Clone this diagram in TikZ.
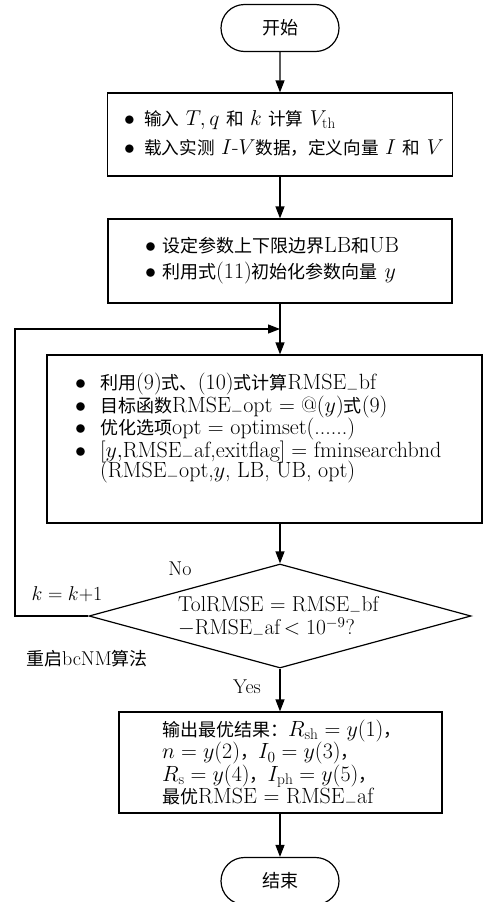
\RequirePackage{fix-cm}
\documentclass[tikz,border=0pt]{standalone}
\usepackage{fontspec}
\newfontfamily\cjk{Noto Sans CJK SC}
\usetikzlibrary{arrows.meta,shapes.geometric,shapes.misc}
\newcommand\zh[1]{{\fontsize{18}{\the\baselineskip}\cjk #1}}
\newcommand\zhs[1]{{\fontsize{17.6}{\the\baselineskip}\cjk #1}}
\newcommand\bul[1]{\makebox[#1][l]{$\bullet$}}
\newcommand\us{$_{-}$}
\begin{document}
\begin{tikzpicture}[x=1pt,y=-1pt,
  every node/.style={font=\fontsize{22}{22}\selectfont},
  box/.style={draw, line width=1.2pt, rectangle, inner sep=0pt},
  term/.style={draw, line width=1.2pt, rounded rectangle, minimum width=118pt, minimum height=47pt, inner sep=0pt},
  dec/.style={draw, line width=1.2pt, diamond, inner sep=0pt, minimum width=382pt, minimum height=104pt},
  arr/.style={-{Triangle[length=12pt,width=9pt]}, line width=1.2pt},
  txt/.style={align=left, inner sep=0pt, anchor=west},
  lab/.style={inner sep=0pt, font=\fontsize{20}{22}\selectfont}]
\useasboundingbox (0,0) rectangle (485,902);

\node[term] (start) at (280,28) {\zh{开始}};
\node[box, minimum width=345pt, minimum height=83pt] (b1) at (280,134.5) {};
\node[box, minimum width=344pt, minimum height=84pt] (b2) at (280,261) {};
\node[box, minimum width=435pt, minimum height=168pt] (b3) at (264.5,439) {};
\node[dec] (dia) at (280,616) {};
\node[box, minimum width=323pt, minimum height=101pt] (b4) at (280.5,762.5) {};
\node[term] (stop) at (280,881) {\zh{结束}};

\node[txt, font=\fontsize{21.5}{29.5}\selectfont] (t1) at (124,133.5)
  {\bul{20pt}\zhs{输入} $T, q$ \zhs{和} $k$ \zhs{计算} $V_{\mathrm{th}}$\\
   \bul{20pt}\zhs{载入实测} $I$-$V$\zhs{数据，定义向量} $I$ \zhs{和} $V$};
\node[txt, font=\fontsize{22}{26}\selectfont] (t2) at (145,261)
  {\bul{17pt}\zh{设定参数上下限边界}LB\zh{和}UB\\
   \bul{17pt}\zh{利用式}(11)\zh{初始化参数向量} $y$};
\node[txt, font=\fontsize{22}{22.5}\selectfont] (t3) at (75,428)
  {\bul{25pt}\zh{利用}(9)\zh{式、}(10)\zh{式计算}RMSE\us bf\\
   \bul{25pt}\zh{目标函数}RMSE\us opt $=@(y)$\zh{式}(9)\\
   \bul{25pt}\zh{优化选项}opt $=$ optimset(......)\\
   \bul{25pt}$[y,$RMSE\us af,exitflag$]=$ fminsearchbnd\\[-2.5pt]
   \hspace*{25pt}(RMSE\us opt,$y$, LB, UB, opt)};
\node[txt, font=\fontsize{21.5}{20.5}\selectfont] (t5) at (178,618)
  {TolRMSE $=$ RMSE\us bf\\$-$RMSE\us af\,$<10^{-9}$?};
\node[txt, font=\fontsize{22}{22.3}\selectfont] (t4) at (162,764)
  {\zh{输出最优结果：}$R_{\mathrm{sh}}=y(1)$\zh{，}\\
   $n=y(2)$\zh{，}$I_0=y(3)$\zh{，}\\
   $R_{\mathrm{s}}=y(4)$\zh{，}$I_{\mathrm{ph}}=y(5)$\zh{，}\\
   \zh{最优}RMSE $=$ RMSE\us af};

\node[lab] (no) at (180,569) {No};
\node[lab] (kk) at (67,594) {$k=k{+}1$};
\node[lab] (rs) at (87,659) {\zh{重启}bcNM\zh{算法}};
\node[lab] (yes) at (247,687) {Yes};

\coordinate (join) at (280,329);
\coordinate (lp1) at (15,616);
\coordinate (lp2) at (15,329);

\draw[arr] (start) -- (b1);
\draw[arr] (b1) -- (b2);
\draw[arr] (b2.south) -- (b3.north -| b2.south);
\draw[arr] (b3.south -| dia.north) -- (dia.north);
\draw[arr] (dia.south) -- (b4.north -| dia.south);
\draw[arr] (b4.south -| stop.north) -- (stop.north);
\draw[arr] (dia.west) -- (lp1) -- (lp2) -- (join);
\end{tikzpicture}
\end{document}
